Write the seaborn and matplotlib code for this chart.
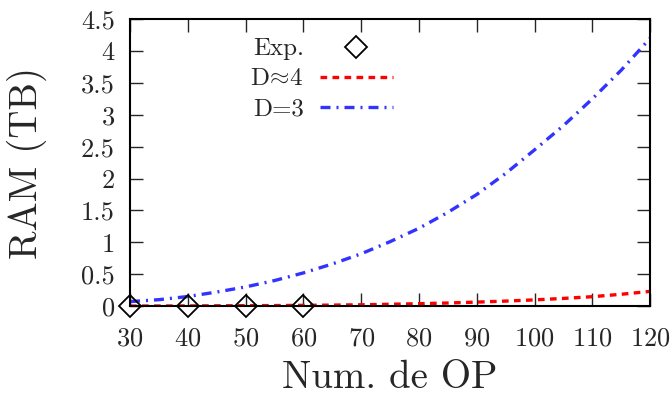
import numpy as np
import pandas as pd
import matplotlib
matplotlib.use('Agg')
import matplotlib.pyplot as plt
import seaborn as sns

# datos
op_exp = [30, 40, 50, 60]
ram_exp = [0.0, 0.0, 0.0, 0.0]

op_fit = [30, 35, 40, 45, 50, 55, 60, 65, 70, 75, 80, 85, 90, 95, 100, 105, 110, 115, 120]
ram_d4 = [0.0, 0.001, 0.002, 0.004, 0.006, 0.008, 0.011, 0.015, 0.02, 0.028, 0.037, 0.048,
          0.062, 0.078, 0.097, 0.12, 0.147, 0.185, 0.23]
ram_d3 = [0.07, 0.1, 0.15, 0.22, 0.3, 0.4, 0.52, 0.66, 0.82, 1.01, 1.22, 1.47,
          1.75, 2.08, 2.45, 2.83, 3.25, 3.7, 4.2]

sns.set_style('ticks')
plt.rcParams['font.family'] = ['cmr10', 'DejaVu Serif']
plt.rcParams['mathtext.fontset'] = 'cm'
plt.rcParams['axes.unicode_minus'] = False
plt.rcParams['axes.formatter.use_mathtext'] = True

fig = plt.figure(figsize=(6.72, 3.98), dpi=100)
ax = fig.add_axes([0.1935, 0.231, 0.774, 0.721])

df_fit = pd.DataFrame({'op': op_fit, 'd4': ram_d4, 'd3': ram_d3})
df_exp = pd.DataFrame({'op': op_exp, 'ram': ram_exp})

lbl_d4 = r'D$\!\approx\!$4'
sns.lineplot(data=df_fit, x='op', y='d4', ax=ax, color='#ff0000', lw=2.4,
             dashes=False, label=lbl_d4)
ax.lines[-1].set_dashes([2.0, 1.6])
sns.lineplot(data=df_fit, x='op', y='d3', ax=ax, color='#3333ff', lw=2.4,
             dashes=False, label='D=3')
ax.lines[-1].set_dashes([3.0, 1.8, 0.6, 1.8])
ax.plot(df_exp['op'], df_exp['ram'], ls='none', marker='D', ms=11.5, mfc='none',
        mec='black', mew=1.3, clip_on=False, label='Exp.', zorder=5)

ax.set_xlim(30, 120)
ax.set_ylim(0, 4.5)
ax.set_xticks(np.arange(30, 121, 10))
ax.set_yticks(np.arange(0, 4.51, 0.5))
ax.set_yticklabels(['0', '0.5', '1', '1.5', '2', '2.5', '3', '3.5', '4', '4.5'])
ax.tick_params(direction='in', top=True, right=True, length=9.5, width=1.0,
               labelsize=19)
ax.tick_params(axis='x', pad=15)
ax.tick_params(axis='y', pad=11)
for s in ax.spines.values():
    s.set_linewidth(1.5)
    s.set_color('black')

ax.set_xlabel('Num. de OP', fontsize=28)
ax.set_ylabel('RAM (TB)', fontsize=28)
ax.xaxis.set_label_coords(0.5, -0.19)
ax.yaxis.set_label_coords(-0.16, 0.5)

h, l = ax.get_legend_handles_labels()
order = [l.index('Exp.'), l.index(lbl_d4), l.index('D=3')]
ax.legend([h[i] for i in order], [l[i] for i in order], loc='upper left',
          bbox_to_anchor=(0.231, 0.935), frameon=False, markerfirst=False,
          fontsize=18, handlelength=2.9, labelspacing=0.3, handletextpad=0.65,
          borderpad=0, borderaxespad=0)

fig.savefig('out.png', dpi=100)
